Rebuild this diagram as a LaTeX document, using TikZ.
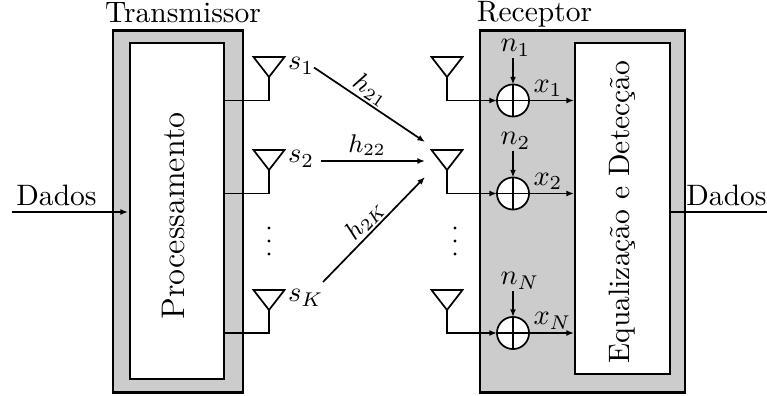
\documentclass[tikz,border=0pt]{standalone}
\usetikzlibrary{arrows.meta}
\newcommand{\antenna}[3]{% name, x, top y
  \coordinate (#1) at (#2,#3+20);
  \draw[wire,line join=miter] (#2-15.5,#3) -- (#2+15.5,#3) -- (#1) -- cycle;
}
\newcommand{\summer}[3]{% name, x, y
  \node[sumnode] (#1) at (#2,#3) {};
  \draw[wire] (#1.north) -- (#1.south) (#1.west) -- (#1.east);
}
\newcommand{\smallh}{\fontsize{8.6pt}{10pt}\selectfont}
\tikzset{
  x=0.352pt,y=-0.352pt,
  wire/.style={line width=0.6pt},
  arrowline/.style={wire,-{Latex[length=2.7pt,width=2.1pt]}},
  outerbox/.style={draw,line width=0.75pt,fill=black!20,inner sep=0pt,outer sep=0pt},
  innerbox/.style={draw,line width=0.6pt,fill=white,inner sep=0pt,outer sep=0pt},
  sumnode/.style={circle,draw,line width=0.6pt,fill=white,minimum size=11.3pt,inner sep=0pt,outer sep=0pt},
  lbl/.style={inner sep=0pt,outer sep=0pt,anchor=base,font=\fontsize{10.4pt}{12pt}\selectfont},
  dotn/.style={circle,fill=black,minimum size=1.2pt,inner sep=0pt,outer sep=0pt},
}
\begin{document}
\begin{tikzpicture}
\useasboundingbox (0,0) rectangle (767,396);
% boxes
\node[outerbox,minimum width=130*0.352pt,minimum height=362*0.352pt] (tx) at (178,211.5) {};
\node[innerbox,minimum width=94*0.352pt,minimum height=336*0.352pt] (proc) at (177,211) {};
\node[outerbox,minimum width=205*0.352pt,minimum height=362*0.352pt] (rx) at (582.5,211.5) {};
\node[innerbox,minimum width=95*0.352pt,minimum height=331*0.352pt] (eq) at (622.5,208.5) {};
% titles
\node[lbl] (ttx) at (183,23) {Transmissor};
\node[lbl] (trx) at (534.5,22) {Receptor};
\node[lbl,rotate=90,font=\fontsize{11.5pt}{13pt}\selectfont] (tproc) at (184,216) {Processamento};
\node[lbl,rotate=90] (teq) at (629,212) {Equalização e Detecção};
% tx antennas
\antenna{ta1}{269}{57}
\antenna{ta2}{269}{150}
\antenna{ta3}{269}{290}
\coordinate (tw1) at (224,100.5);
\coordinate (tw2) at (224,193.5);
\coordinate (tw3) at (224,333);
\draw[wire] (ta1) |- (tw1);
\draw[wire] (ta2) |- (tw2);
\draw[wire] (ta3) |- (tw3);
% rx antennas
\antenna{ra1}{447}{57}
\antenna{ra2}{447}{150}
\antenna{ra3}{447}{290}
% summers
\summer{s1}{513}{100.5}
\summer{s2}{513}{193.5}
\summer{s3}{513}{333}
\draw[arrowline] (ra1) |- (s1.west);
\draw[arrowline] (ra2) |- (s2.west);
\draw[arrowline] (ra3) |- (s3.west);
\coordinate (o1) at (574,100.5);
\coordinate (o2) at (574,193.5);
\coordinate (o3) at (574,333);
\draw[arrowline] (s1.east) -- (o1);
\draw[arrowline] (s2.east) -- (o2);
\draw[arrowline] (s3.east) -- (o3);
\coordinate (n1) at (513,58);
\coordinate (n2) at (513,151);
\coordinate (n3) at (513,291);
\draw[arrowline] (n1) -- (s1.north);
\draw[arrowline] (n2) -- (s2.north);
\draw[arrowline] (n3) -- (s3.north);
% channel arrows
\coordinate (c1a) at (314,67.5);
\coordinate (c1b) at (425,142);
\coordinate (c2a) at (321,161);
\coordinate (c2b) at (425,161);
\coordinate (c3a) at (323,282);
\coordinate (c3b) at (425,177);
\draw[arrowline] (c1a) -- (c1b);
\draw[arrowline] (c2a) -- (c2b);
\draw[arrowline] (c3a) -- (c3b);
% data
\coordinate (d1) at (12,212);
\coordinate (d2) at (128,212);
\coordinate (d3) at (767,212);
\draw[arrowline] (d1) -- (d2);
\draw[wire] (eq.east |- d3) -- (d3);
\node[lbl] (ld1) at (56.5,206) {Dados};
\node[lbl] (ld2) at (726.5,206) {Dados};
% dots
\foreach \y/\k in {228/1,241/2,254/3}{
  \node[dotn] (da\k) at (269,\y) {};
  \node[dotn] (db\k) at (455,\y) {};
}
% signal labels
\node[lbl,anchor=base west] (ls1) at (288,70) {$s_1$};
\node[lbl,anchor=base west] (ls2) at (288,163) {$s_2$};
\node[lbl,anchor=base west] (ls3) at (288,302) {$s_K$};
\node[lbl,anchor=center,rotate=-34,font=\smallh] (h1) at (371,90) {$h_{21}$};
\node[lbl,anchor=center,font=\smallh] (h2) at (367,145) {$h_{22}$};
\node[lbl,anchor=center,rotate=47,font=\smallh] (h3) at (365,220) {$h_{2K}$};
\node[lbl,anchor=base west] (ln1) at (500.5,52) {$n_1$};
\node[lbl,anchor=base west] (ln2) at (500.5,145) {$n_2$};
\node[lbl,anchor=base west] (ln3) at (500.5,285) {$n_N$};
\node[lbl,anchor=base west] (lx1) at (533.5,92.5) {$x_1$};
\node[lbl,anchor=base west] (lx2) at (533.5,185.5) {$x_2$};
\node[lbl,anchor=base west] (lx3) at (533.5,325) {$x_N$};
\end{tikzpicture}
\end{document}
